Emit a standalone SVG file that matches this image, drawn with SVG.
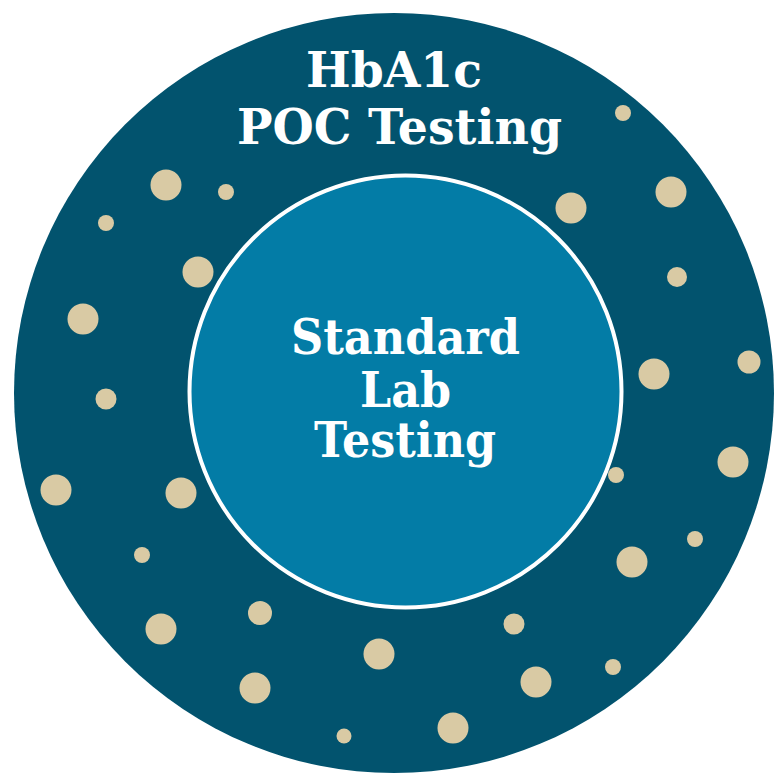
<svg xmlns="http://www.w3.org/2000/svg" width="774" height="773" viewBox="0 0 774 773">
<style>
.lbl{font-family:"DejaVu Serif","Liberation Serif",serif;font-weight:bold;fill:#ffffff;text-anchor:middle;font-size:48px}
.dot{fill:#D9CAA4}
</style>
<rect width="774" height="773" fill="#ffffff"/>
<g id="outer">
<circle cx="394" cy="393" r="380" fill="#02536E"/>
<text class="lbl" x="394" y="87" textLength="176" lengthAdjust="spacingAndGlyphs">HbA1c</text>
<text class="lbl" x="399.5" y="144" textLength="325" lengthAdjust="spacingAndGlyphs">POC Testing</text>
</g>
<g id="dots">
<circle class="dot" cx="623" cy="113" r="8"/>
<circle class="dot" cx="166" cy="185" r="15.5"/>
<circle class="dot" cx="226" cy="192" r="8"/>
<circle class="dot" cx="106" cy="223" r="8"/>
<circle class="dot" cx="571" cy="208" r="15.5"/>
<circle class="dot" cx="671" cy="192" r="15.5"/>
<circle class="dot" cx="198" cy="272" r="15.5"/>
<circle class="dot" cx="677" cy="277" r="10"/>
<circle class="dot" cx="83" cy="319" r="15.5"/>
<circle class="dot" cx="749" cy="362" r="11.5"/>
<circle class="dot" cx="654" cy="374" r="15.5"/>
<circle class="dot" cx="106" cy="399" r="10.5"/>
<circle class="dot" cx="56" cy="490" r="15.5"/>
<circle class="dot" cx="181" cy="493" r="15.5"/>
<circle class="dot" cx="616" cy="475" r="8"/>
<circle class="dot" cx="733" cy="462" r="15.5"/>
<circle class="dot" cx="142" cy="555" r="8"/>
<circle class="dot" cx="695" cy="539" r="8"/>
<circle class="dot" cx="632" cy="562" r="15.5"/>
<circle class="dot" cx="260" cy="613" r="12"/>
<circle class="dot" cx="161" cy="629" r="15.5"/>
<circle class="dot" cx="514" cy="624" r="10.5"/>
<circle class="dot" cx="379" cy="654" r="15.5"/>
<circle class="dot" cx="613" cy="667" r="8"/>
<circle class="dot" cx="255" cy="688" r="15.5"/>
<circle class="dot" cx="536" cy="682" r="15.5"/>
<circle class="dot" cx="344" cy="736" r="7.5"/>
<circle class="dot" cx="453" cy="728" r="15.5"/>
</g>
<g id="inner">
<circle cx="405.5" cy="391.5" r="216" fill="#037CA6" stroke="#ffffff" stroke-width="4"/>
<text class="lbl" x="405.5" y="354" textLength="229" lengthAdjust="spacingAndGlyphs">Standard</text>
<text class="lbl" x="405.5" y="407" textLength="91" lengthAdjust="spacingAndGlyphs">Lab</text>
<text class="lbl" x="405" y="457" textLength="182" lengthAdjust="spacingAndGlyphs">Testing</text>
</g>
</svg>
